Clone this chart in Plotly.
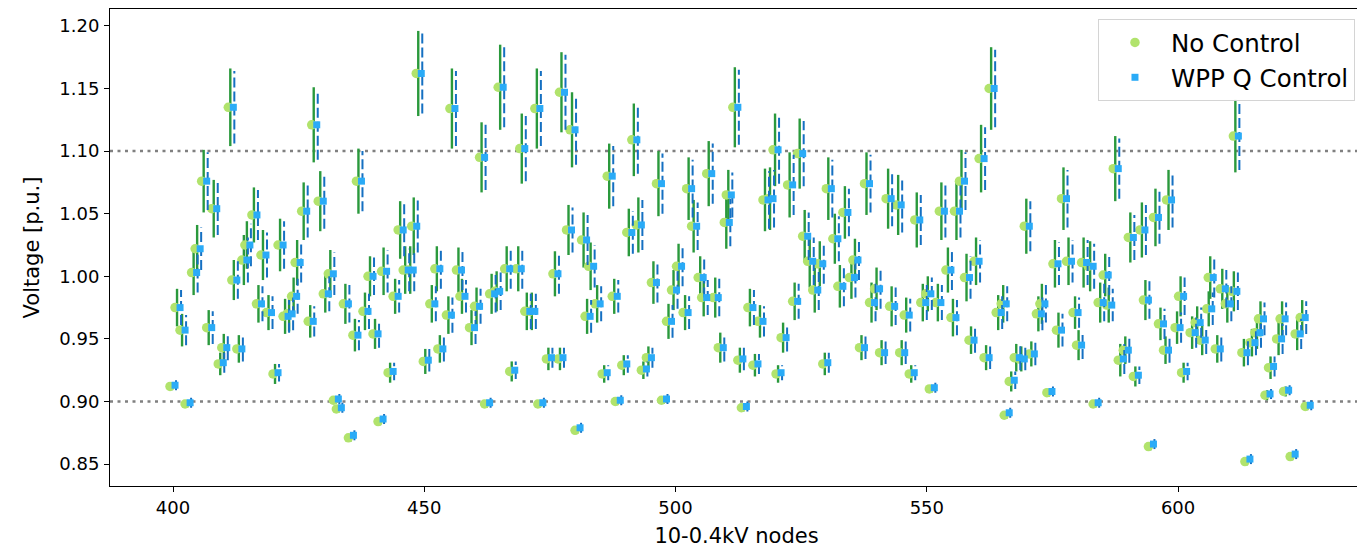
import plotly.graph_objects as go

# ---- data ----
nodes = [399.4, 400.4, 401.4, 402.4, 403.7, 404.4, 405.7, 406.7, 407.7, 409.0,
         409.7, 411.0, 411.7, 412.7, 413.7, 414.3, 415.7, 416.6, 417.5, 418.6,
         419.9, 420.9, 421.9, 422.7, 423.6, 424.3, 425.6, 426.9, 427.6, 428.9,
         429.9, 430.9, 431.9, 432.5, 433.9, 434.9, 435.8, 436.5, 437.8, 438.8,
         439.8, 440.8, 441.5, 442.8, 443.8, 444.8, 445.8, 446.8, 447.5, 448.4,
         449.8, 451.1, 452.1, 452.7, 454.4, 455.1, 456.4, 457.1, 459.0, 460.0,
         461.0, 462.0, 463.0, 464.0, 464.7, 466.0, 467.0, 468.3, 469.0, 470.0,
         471.0, 472.0, 472.6, 474.3, 475.6, 476.6, 476.9, 478.3, 479.0, 480.0,
         481.3, 482.0, 482.7, 484.0, 485.4, 486.4, 487.4, 488.0, 489.3, 490.3,
         491.3, 492.2, 493.2, 494.2, 495.2, 496.2, 497.2, 498.2, 499.2, 500.2,
         501.5, 502.2, 503.2, 504.5, 505.2, 506.2, 507.5, 508.5, 509.7, 510.1,
         511.4, 512.4, 513.1, 514.4, 515.4, 516.4, 517.4, 518.4, 519.4, 520.0,
         521.0, 522.3, 523.3, 524.3, 525.3, 526.3, 527.3, 528.3, 529.3, 530.0,
         531.3, 532.3, 533.3, 534.6, 535.3, 536.6, 537.6, 538.6, 539.6, 540.6,
         541.9, 542.6, 543.9, 544.6, 545.5, 546.5, 547.6, 548.8, 549.8, 550.5,
         551.8, 552.5, 553.8, 554.8, 555.5, 556.5, 557.5, 558.4, 559.4, 560.4,
         561.4, 562.4, 563.8, 564.8, 565.4, 566.4, 567.4, 568.4, 569.4, 570.4,
         571.8, 572.5, 573.9, 575.1, 575.8, 576.8, 577.8, 579.1, 579.8, 580.8,
         582.1, 583.1, 584.1, 585.1, 585.8, 587.1, 588.1, 589.1, 590.1, 591.1,
         592.4, 593.1, 594.1, 595.1, 596.1, 597.1, 597.7, 599.4, 600.1, 600.7,
         602.4, 603.4, 604.4, 605.7, 606.0, 607.4, 608.4, 609.4, 610.7, 611.0,
         612.7, 613.3, 614.3, 615.3, 616.0, 617.3, 618.0, 619.6, 620.3, 621.0,
         622.3, 623.3, 624.3, 625.3]

no_control = [0.912, 0.975, 0.957, 0.898, 1.003, 1.022, 1.076, 0.959, 1.054, 0.930,
              0.943, 1.135, 0.997, 0.942, 1.013, 1.025, 1.049, 0.978, 1.017, 0.971,
              0.922, 1.025, 0.968, 0.970, 0.984, 1.011, 1.052, 0.964, 1.121, 1.060,
              0.986, 1.002, 0.901, 0.894, 0.978, 0.871, 0.953, 1.076, 0.972, 1.000,
              0.954, 0.884, 1.004, 0.923, 0.984, 1.037, 1.005, 1.005, 1.040, 1.162,
              0.932, 0.978, 1.006, 0.942, 0.969, 1.134, 1.005, 0.984, 0.959, 0.976,
              1.095, 0.898, 0.986, 0.988, 1.151, 1.006, 0.924, 1.006, 1.102, 0.972,
              0.972, 1.134, 0.898, 0.934, 1.002, 0.934, 1.147, 1.037, 1.117, 0.877,
              1.029, 0.968, 1.008, 0.978, 0.922, 1.080, 0.984, 0.900, 0.929, 1.035,
              1.109, 1.041, 0.925, 0.935, 0.995, 1.074, 0.901, 0.964, 0.989, 1.008,
              0.971, 1.070, 1.040, 0.999, 0.983, 1.082, 0.983, 0.943, 1.043, 1.065,
              1.135, 0.933, 0.895, 0.975, 0.929, 0.964, 1.061, 1.062, 1.101, 0.922,
              0.951, 1.073, 0.980, 1.098, 1.032, 1.012, 0.989, 1.010, 0.930, 1.070,
              1.030, 0.992, 1.051, 0.999, 1.013, 0.943, 1.074, 0.979, 0.990, 0.939,
              1.062, 0.976, 1.057, 0.939, 0.969, 0.922, 1.045, 0.979, 0.986, 0.910,
              0.979, 1.052, 1.005, 0.967, 1.052, 1.076, 0.999, 0.949, 1.012, 1.094,
              0.935, 1.150, 0.971, 0.978, 0.889, 0.916, 0.935, 0.934, 1.040, 0.938,
              0.970, 0.978, 0.907, 1.010, 0.957, 1.062, 1.012, 0.971, 0.945, 1.011,
              1.008, 0.898, 0.979, 1.001, 0.977, 1.086, 0.933, 0.941, 1.031, 0.920,
              1.037, 0.981, 0.864, 1.047, 0.962, 0.941, 1.061, 0.959, 0.984, 0.923,
              0.955, 0.963, 0.949, 0.974, 0.999, 0.942, 0.990, 0.978, 0.988, 1.112,
              0.939, 0.852, 0.947, 0.955, 0.966, 0.905, 0.927, 0.950, 0.966, 0.908,
              0.856, 0.954, 0.967, 0.896]

no_control_err = [0.003, 0.015, 0.013, 0.003, 0.018, 0.019, 0.025, 0.014, 0.023, 0.009,
                  0.011, 0.031, 0.016, 0.011, 0.020, 0.019, 0.022, 0.015, 0.020, 0.014,
                  0.008, 0.021, 0.014, 0.014, 0.015, 0.018, 0.023, 0.013, 0.030, 0.024,
                  0.015, 0.019, 0.003, 0.003, 0.016, 0.003, 0.013, 0.026, 0.015, 0.016,
                  0.012, 0.003, 0.019, 0.008, 0.014, 0.023, 0.019, 0.019, 0.023, 0.034,
                  0.010, 0.015, 0.018, 0.011, 0.015, 0.032, 0.018, 0.014, 0.014, 0.015,
                  0.028, 0.003, 0.016, 0.016, 0.034, 0.018, 0.008, 0.018, 0.028, 0.015,
                  0.015, 0.032, 0.003, 0.009, 0.018, 0.009, 0.032, 0.020, 0.030, 0.003,
                  0.022, 0.014, 0.019, 0.015, 0.007, 0.026, 0.014, 0.003, 0.008, 0.019,
                  0.029, 0.022, 0.007, 0.009, 0.017, 0.026, 0.003, 0.014, 0.016, 0.018,
                  0.014, 0.025, 0.021, 0.017, 0.015, 0.026, 0.016, 0.012, 0.021, 0.020,
                  0.032, 0.010, 0.003, 0.015, 0.009, 0.013, 0.025, 0.025, 0.029, 0.007,
                  0.012, 0.026, 0.015, 0.028, 0.021, 0.021, 0.018, 0.018, 0.009, 0.025,
                  0.020, 0.017, 0.021, 0.017, 0.017, 0.010, 0.025, 0.016, 0.017, 0.010,
                  0.024, 0.016, 0.024, 0.010, 0.014, 0.007, 0.022, 0.015, 0.014, 0.003,
                  0.015, 0.023, 0.018, 0.015, 0.023, 0.025, 0.019, 0.011, 0.019, 0.027,
                  0.010, 0.033, 0.014, 0.015, 0.003, 0.008, 0.011, 0.010, 0.022, 0.010,
                  0.014, 0.016, 0.003, 0.019, 0.014, 0.025, 0.019, 0.013, 0.012, 0.020,
                  0.020, 0.003, 0.016, 0.017, 0.014, 0.026, 0.013, 0.011, 0.020, 0.008,
                  0.022, 0.016, 0.003, 0.023, 0.013, 0.011, 0.024, 0.013, 0.016, 0.008,
                  0.013, 0.013, 0.012, 0.014, 0.017, 0.011, 0.016, 0.015, 0.016, 0.029,
                  0.011, 0.003, 0.011, 0.013, 0.014, 0.004, 0.009, 0.013, 0.014, 0.004,
                  0.003, 0.013, 0.014, 0.003]

wpp_q_control = [0.913, 0.975, 0.957, 0.899, 1.003, 1.022, 1.076, 0.959, 1.054, 0.931,
                 0.943, 1.135, 0.997, 0.942, 1.013, 1.025, 1.049, 0.978, 1.017, 0.971,
                 0.923, 1.025, 0.968, 0.970, 0.984, 1.011, 1.052, 0.964, 1.121, 1.060,
                 0.986, 1.002, 0.902, 0.895, 0.978, 0.873, 0.953, 1.076, 0.972, 1.000,
                 0.954, 0.886, 1.004, 0.924, 0.984, 1.037, 1.005, 1.005, 1.040, 1.162,
                 0.933, 0.978, 1.006, 0.942, 0.969, 1.134, 1.005, 0.984, 0.959, 0.976,
                 1.095, 0.899, 0.986, 0.988, 1.151, 1.006, 0.925, 1.006, 1.102, 0.972,
                 0.972, 1.134, 0.899, 0.935, 1.002, 0.935, 1.147, 1.037, 1.117, 0.879,
                 1.029, 0.968, 1.008, 0.978, 0.923, 1.080, 0.984, 0.901, 0.930, 1.035,
                 1.109, 1.041, 0.926, 0.935, 0.995, 1.074, 0.902, 0.964, 0.989, 1.008,
                 0.971, 1.070, 1.040, 0.999, 0.983, 1.082, 0.983, 0.943, 1.043, 1.065,
                 1.135, 0.934, 0.896, 0.975, 0.930, 0.964, 1.061, 1.062, 1.101, 0.923,
                 0.951, 1.073, 0.980, 1.098, 1.032, 1.012, 0.989, 1.010, 0.931, 1.070,
                 1.030, 0.992, 1.051, 0.999, 1.013, 0.943, 1.074, 0.979, 0.990, 0.939,
                 1.062, 0.976, 1.057, 0.939, 0.969, 0.923, 1.045, 0.979, 0.986, 0.911,
                 0.979, 1.052, 1.005, 0.967, 1.052, 1.076, 0.999, 0.949, 1.012, 1.094,
                 0.935, 1.150, 0.971, 0.978, 0.891, 0.917, 0.935, 0.934, 1.040, 0.938,
                 0.970, 0.978, 0.908, 1.010, 0.957, 1.062, 1.012, 0.971, 0.945, 1.011,
                 1.008, 0.899, 0.979, 1.001, 0.977, 1.086, 0.934, 0.941, 1.031, 0.921,
                 1.037, 0.981, 0.866, 1.047, 0.962, 0.941, 1.061, 0.959, 0.984, 0.924,
                 0.955, 0.963, 0.949, 0.974, 0.999, 0.942, 0.990, 0.978, 0.988, 1.112,
                 0.939, 0.854, 0.947, 0.955, 0.966, 0.906, 0.928, 0.950, 0.966, 0.909,
                 0.858, 0.954, 0.967, 0.897]

wpp_q_control_err = [0.004, 0.014, 0.012, 0.004, 0.016, 0.017, 0.023, 0.013, 0.021, 0.008,
                     0.010, 0.029, 0.015, 0.010, 0.018, 0.017, 0.020, 0.014, 0.018, 0.013,
                     0.007, 0.019, 0.013, 0.013, 0.014, 0.016, 0.021, 0.012, 0.028, 0.022,
                     0.014, 0.017, 0.004, 0.004, 0.015, 0.004, 0.012, 0.024, 0.014, 0.015,
                     0.011, 0.004, 0.017, 0.007, 0.013, 0.021, 0.017, 0.017, 0.021, 0.032,
                     0.009, 0.014, 0.016, 0.010, 0.014, 0.030, 0.016, 0.013, 0.013, 0.014,
                     0.026, 0.004, 0.015, 0.015, 0.032, 0.016, 0.007, 0.016, 0.026, 0.014,
                     0.014, 0.030, 0.004, 0.008, 0.016, 0.008, 0.030, 0.018, 0.028, 0.004,
                     0.020, 0.013, 0.017, 0.014, 0.006, 0.024, 0.013, 0.004, 0.007, 0.017,
                     0.027, 0.020, 0.006, 0.008, 0.016, 0.024, 0.004, 0.013, 0.015, 0.016,
                     0.013, 0.023, 0.019, 0.016, 0.014, 0.024, 0.015, 0.011, 0.019, 0.018,
                     0.030, 0.009, 0.004, 0.014, 0.008, 0.012, 0.023, 0.023, 0.027, 0.006,
                     0.011, 0.024, 0.014, 0.026, 0.019, 0.019, 0.016, 0.016, 0.008, 0.023,
                     0.018, 0.016, 0.019, 0.016, 0.016, 0.009, 0.023, 0.015, 0.016, 0.009,
                     0.022, 0.015, 0.022, 0.009, 0.013, 0.006, 0.020, 0.014, 0.013, 0.004,
                     0.014, 0.021, 0.016, 0.014, 0.021, 0.023, 0.017, 0.010, 0.017, 0.025,
                     0.009, 0.031, 0.013, 0.014, 0.004, 0.007, 0.010, 0.009, 0.020, 0.009,
                     0.013, 0.015, 0.004, 0.017, 0.013, 0.023, 0.017, 0.012, 0.011, 0.018,
                     0.018, 0.004, 0.015, 0.016, 0.013, 0.024, 0.012, 0.010, 0.018, 0.007,
                     0.020, 0.015, 0.004, 0.021, 0.012, 0.010, 0.022, 0.012, 0.015, 0.007,
                     0.012, 0.012, 0.011, 0.013, 0.016, 0.010, 0.015, 0.014, 0.015, 0.027,
                     0.010, 0.004, 0.010, 0.012, 0.013, 0.004, 0.008, 0.012, 0.013, 0.004,
                     0.004, 0.012, 0.013, 0.004]

x_ticks = [400, 450, 500, 550, 600]
y_ticks = [0.85, 0.90, 0.95, 1.00, 1.05, 1.10, 1.15, 1.20]
voltage_limits = [0.90, 1.10]

# ---- styling ----
FONT = "DejaVu Sans"
GREEN_MARK = "#b1e36c"
GREEN_BAR = "#2a993c"
BLUE_MARK = "#2aabf7"
BLUE_BAR = "#1570c2"
# horizontal offsets (in node units) used by the original plot
OFF_GREEN_BAR = 0.4
OFF_BLUE_MARK = 1.0
OFF_BLUE_BAR = 1.2


def bar_segments(xs, vs, es, dx):
    X, Y = [], []
    for x, v, e in zip(xs, vs, es):
        X += [x + dx, x + dx, None]
        Y += [v - e, v + e, None]
    return X, Y


fig = go.Figure()

gx, gy = bar_segments(nodes, no_control, no_control_err, OFF_GREEN_BAR)
fig.add_trace(go.Scatter(x=gx, y=gy, mode="lines", showlegend=False,
                         hoverinfo="skip",
                         line=dict(color=GREEN_BAR, width=2.4)))
fig.add_trace(go.Scatter(x=nodes, y=no_control, mode="markers", name="No Control",
                         marker=dict(symbol="circle", size=9.5, color=GREEN_MARK,
                                     line=dict(width=0))))

bx, by = bar_segments(nodes, wpp_q_control, wpp_q_control_err, OFF_BLUE_BAR)
fig.add_trace(go.Scatter(x=bx, y=by, mode="lines", showlegend=False,
                         hoverinfo="skip",
                         line=dict(color=BLUE_BAR, width=2, dash="10px,4px")))
fig.add_trace(go.Scatter(x=[n + OFF_BLUE_MARK for n in nodes], y=wpp_q_control,
                         mode="markers", name="WPP Q Control",
                         marker=dict(symbol="square", size=7, color=BLUE_MARK,
                                     line=dict(width=0))))

for lim in voltage_limits:
    fig.add_shape(type="line", xref="paper", x0=0, x1=1, yref="y", y0=lim, y1=lim,
                  line=dict(color="#808080", width=2.5, dash="3px,4.5px"),
                  layer="below")

axis_common = dict(showline=True, mirror=True, linecolor="#000000", linewidth=1,
                   ticks="outside", ticklen=5, tickwidth=1, tickcolor="#000000",
                   showgrid=False, zeroline=False,
                   tickfont=dict(family=FONT, size=18, color="#000000"))

# the page body adds an 8px offset; the figure is sized to fit the window
fig.update_layout(
    width=1357, height=541,
    margin=dict(l=102, r=2, t=1, b=63, autoexpand=False),
    paper_bgcolor="white", plot_bgcolor="white",
    font=dict(family=FONT, color="#000000"),
    xaxis=dict(range=[387.46, 636.8], tickvals=x_ticks,
               ticktext=[str(t) for t in x_ticks],
               title=dict(text="10-0.4kV nodes", font=dict(family=FONT, size=21),
                          standoff=11),
               **axis_common),
    yaxis=dict(range=[0.8325, 1.2135], tickvals=y_ticks,
               ticktext=[f"{t:.2f}" for t in y_ticks],
               ticklabelstandoff=1,
               title=dict(text="Voltage [p.u.]", font=dict(family=FONT, size=21),
                          standoff=13),
               **axis_common),
    legend=dict(x=0.9936, y=0.979, xanchor="right", yanchor="top",
                bgcolor="rgba(255,255,255,0.85)", bordercolor="#d4d4d4",
                borderwidth=1, font=dict(family=FONT, size=24.5, color="#000000"),
                itemwidth=62),
    showlegend=True,
)

fig.write_html("out.html")
